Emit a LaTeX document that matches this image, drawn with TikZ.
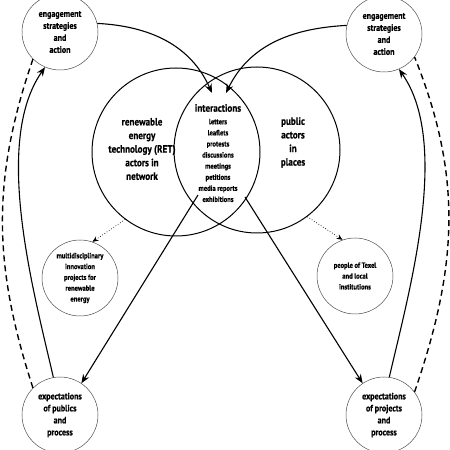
\documentclass[tikz,border=0pt]{standalone}
\usepackage{fontspec}
\setmainfont{PT Sans}[FakeStretch=0.86,BoldFont=PT Sans Bold,BoldFeatures={FakeStretch=0.86,FakeBold=0.6}]
\usetikzlibrary{arrows.meta}
\begin{document}
\begin{tikzpicture}[x=1pt,y=1pt,
  corner/.style={circle,draw=black!70,line width=0.5pt,minimum size=76pt,inner sep=0pt,align=center,font=\bfseries\fontsize{9.3}{12}\selectfont},
  small/.style={circle,draw=black!70,line width=0.5pt,minimum size=76pt,inner sep=0pt,align=center,font=\bfseries\fontsize{7.6}{10.8}\selectfont},
  venn/.style={circle,draw=black,line width=1pt,inner sep=0pt},
  bigtxt/.style={align=center,font=\bfseries\fontsize{10.6}{13.6}\selectfont,inner sep=0pt},
  itemtxt/.style={align=center,font=\bfseries\fontsize{7.6}{11.1}\selectfont,inner sep=0pt},
  flow/.style={line width=1.1pt,-{Stealth[length=9pt,width=7pt]}},
  loop/.style={line width=1.4pt,dash pattern=on 6pt off 4pt},
  hint/.style={line width=0.7pt,dotted,-{Stealth[length=6pt,width=5pt]}}]
\useasboundingbox (0,0) rectangle (450,450);
% venn circles
\node[venn,minimum size=168pt] (vl) at (176,298) {};
\node[venn,minimum size=166pt] (vr) at (257,300) {};
% corner circles
\node[corner] (tl) at (60,418) {engagement\\strategies\\and\\action};
\node[corner] (tr) at (384,416) {engagement\\strategies\\and\\action};
\node[corner] (bl) at (60,35) {expectations\\of publics\\and\\process};
\node[corner] (br) at (384,35) {expectations\\of projects\\and\\process};
% small circles
\node[small] (ml) at (80,172) {multidisciplinary\\innovation\\projects for\\renewable\\energy};
\node[small] (mr) at (355,174) {people of Texel\\and local\\institutions};
% texts
\node[bigtxt] (lt) at (142,301) {renewable\\energy\\technology (RET)\\actors in\\network};
\node[bigtxt] (rt) at (293,307.5) {public\\actors\\in\\places};
\node[bigtxt] (ih) at (218,342) {interactions};
\node[itemtxt] (il) at (218,289.5) {letters\\leaflets\\protests\\discussions\\meetings\\petitions\\media reports\\exhibitions};
\coordinate (ia) at (212,357);
\coordinate (ib) at (226,357);
\coordinate (ic) at (198,255);
\coordinate (id) at (245,253);
% flows
\draw[flow] (tl.13) to[out=-3,in=114] (ia);
\draw[flow] (tr.167) to[out=183,in=64] (ib);
\draw[flow] (ic) -- (bl.56);
\draw[flow] (id) -- (br.124);
\draw[flow] (bl.100) to[out=103,in=235,looseness=0.75] (tl.247);
\draw[flow] (br.82) to[out=77,in=305,looseness=0.75] (tr.293);
\draw[loop] (bl.135) to[out=108,in=251] (tl.225);
\draw[loop] (br.37) to[out=71,in=292] (tr.323);
% hints
\draw[hint] (vl.233) -- (ml.71);
\draw[hint] (vr.307) -- (mr.109);
\end{tikzpicture}
\end{document}
